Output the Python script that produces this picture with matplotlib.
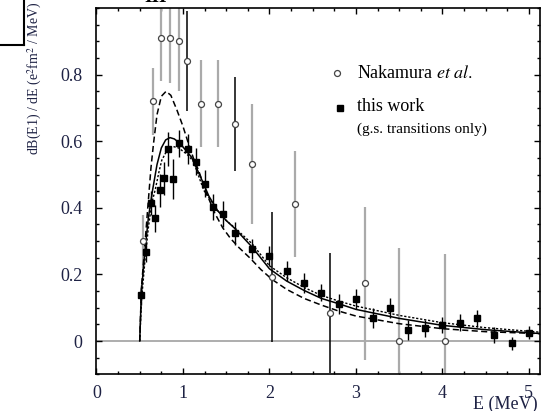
import numpy as np
import matplotlib
matplotlib.use("Agg")
import matplotlib.pyplot as plt
from matplotlib.ticker import MultipleLocator
from matplotlib.lines import Line2D

plt.rcParams['font.family'] = ['Liberation Serif', 'DejaVu Serif']
plt.rcParams['mathtext.fontset'] = 'stix'

# Nakamura et al. (open circles)
nak_x = [0.54, 0.65, 0.75, 0.85, 0.95, 1.05, 1.21, 1.40, 1.60, 1.80, 2.03, 2.30, 2.70, 3.10, 3.50, 4.03]
nak_y = [0.30, 0.72, 0.91, 0.91, 0.90, 0.84, 0.713, 0.713, 0.652, 0.532, 0.193, 0.411, 0.083, 0.173, 0.0, 0.0]
nak_err = [0.08, 0.10, 0.13, 0.135, 0.15, 0.15, 0.13, 0.13, 0.14, 0.18, 0.195, 0.16, 0.18, 0.23, 0.28, 0.26]
nak_dark = [False, False, False, False, False, True, False, False, True, False, True, False, True, False, False, False]

# this work (filled squares)
tw_x = [0.52, 0.57, 0.63, 0.68, 0.73, 0.78, 0.83, 0.88, 0.96, 1.06, 1.15, 1.25, 1.35, 1.46,
        1.60, 1.80, 2.00, 2.20, 2.40, 2.60, 2.80, 3.00, 3.20, 3.40, 3.60, 3.80, 4.00, 4.20,
        4.40, 4.60, 4.80, 5.00]
tw_y = [0.138, 0.268, 0.415, 0.368, 0.453, 0.489, 0.577, 0.487, 0.594, 0.578, 0.539, 0.473, 0.403, 0.381,
        0.323, 0.276, 0.255, 0.210, 0.173, 0.145, 0.111, 0.125, 0.068, 0.098, 0.033, 0.038, 0.048, 0.055,
        0.068, 0.018, -0.007, 0.025]
tw_err = [0.03, 0.03, 0.035, 0.04, 0.05, 0.05, 0.05, 0.06, 0.04, 0.045, 0.04, 0.04, 0.04, 0.04,
          0.035, 0.03, 0.03, 0.03, 0.03, 0.025, 0.03, 0.03, 0.03, 0.03, 0.03, 0.025, 0.025, 0.025,
          0.025, 0.025, 0.02, 0.02]

# theory curves
solid_x = [0.50, 0.52, 0.56, 0.60, 0.65, 0.70, 0.75, 0.80, 0.85, 0.90, 0.95, 1.00, 1.10, 1.20, 1.30,
           1.40, 1.50, 1.60, 1.80, 2.00, 2.20, 2.40, 2.60, 2.80, 3.00, 3.50, 4.00, 4.50, 5.15]
solid_y = [0.0, 0.150, 0.270, 0.370, 0.455, 0.530, 0.580, 0.604, 0.611, 0.607, 0.597, 0.583, 0.552, 0.495, 0.435,
           0.392, 0.362, 0.338, 0.282, 0.217, 0.180, 0.152, 0.128, 0.112, 0.095, 0.068, 0.047, 0.034, 0.022]

dash_x = [0.50, 0.52, 0.56, 0.59, 0.61, 0.63, 0.66, 0.70, 0.75, 0.805, 0.86, 0.93, 1.00, 1.06, 1.12, 1.18,
          1.27, 1.37, 1.46, 1.55, 1.65, 1.78, 1.90, 2.03, 2.20, 2.40, 2.60, 2.80, 3.00, 3.50, 4.00, 4.50, 5.15]
dash_y = [0.0, 0.160, 0.290, 0.390, 0.455, 0.520, 0.594, 0.680, 0.735, 0.750, 0.738, 0.694, 0.645, 0.596, 0.550, 0.513,
          0.445, 0.383, 0.340, 0.308, 0.280, 0.248, 0.215, 0.185, 0.155, 0.128, 0.108, 0.090, 0.075, 0.052, 0.037, 0.028, 0.022]

dot_x = [0.50, 0.52, 0.56, 0.60, 0.64, 0.68, 0.72, 0.755, 0.82, 0.89, 0.95, 1.05, 1.12, 1.24, 1.30,
         1.40, 1.50, 1.60, 1.80, 2.00, 2.20, 2.40, 2.60, 2.80, 3.00, 3.50, 4.00, 4.50, 5.15]
dot_y = [0.0, 0.120, 0.240, 0.340, 0.415, 0.455, 0.505, 0.543, 0.575, 0.584, 0.580, 0.560, 0.540, 0.453, 0.430,
         0.392, 0.362, 0.340, 0.292, 0.226, 0.190, 0.161, 0.137, 0.120, 0.105, 0.077, 0.055, 0.040, 0.026]

fig = plt.figure(figsize=(5.42, 4.11), dpi=100)
ax = fig.add_axes([0.178, 0.0893, 0.8185, 0.891])

ax.axhline(0, color='#a0a0a0', lw=1.2, zorder=1)

ax.plot(solid_x, solid_y, color='k', lw=1.1, zorder=3)
ax.plot(dash_x, dash_y, color='k', lw=1.1, ls=(0, (4, 2.2)), zorder=3)
ax.plot(dot_x, dot_y, color='k', lw=1.0, ls=(0, (1.6, 1.3)), zorder=3)

for x, y, e, dark in zip(nak_x, nak_y, nak_err, nak_dark):
    ax.errorbar(x, y, yerr=e, fmt='none', ecolor='k' if dark else '#aaaaaa',
                elinewidth=1.1 if dark else 1.6, capsize=0, zorder=2)
ax.plot(nak_x, nak_y, 'o', ms=4.3, mfc='white', mec='#444444', mew=0.9, zorder=4)

ax.errorbar(tw_x, tw_y, yerr=tw_err, fmt='s', ms=4.6, color='k', ecolor='k',
            elinewidth=1.0, capsize=0, zorder=5)

ax.set_xlim(0, 5.13)
ax.set_ylim(-0.1, 1.0)
ax.xaxis.set_major_locator(MultipleLocator(1))
ax.xaxis.set_minor_locator(MultipleLocator(0.25))
ax.yaxis.set_major_locator(MultipleLocator(0.2))
ax.yaxis.set_minor_locator(MultipleLocator(0.05))
ax.set_yticks([0, 0.2, 0.4, 0.6, 0.8])
ax.set_yticklabels(['0', '0.2', '0.4', '0.6', '0.8'])
ax.tick_params(which='both', direction='in', top=True, right=True, width=1.0,
               labelsize=13, labelcolor='#1e2244')
ax.tick_params(which='major', length=4.5)
ax.tick_params(which='minor', length=2.5)
ax.tick_params(axis='y', pad=10)
ax.tick_params(axis='x', pad=8)
for s in ax.spines.values():
    s.set_linewidth(1.2)

ax.set_ylabel(r'dB(E1) / dE (e$^2$fm$^2$ / MeV)', fontsize=10, color='#1e2244')
ax.yaxis.set_label_coords(-0.119, 0.807)
fig.text(473 / 542, 1 - 409 / 411, 'E (MeV)', fontsize=13, color='#1e2244',
         ha='left', va='baseline')

# legend
ax.plot([0.542], [0.822], 'o', ms=4.3, mfc='white', mec='#444444', mew=0.9,
        transform=ax.transAxes, clip_on=False)
ax.text(0.587, 0.822, r'Nakamura $\it{et\ al.}$', transform=ax.transAxes,
        fontsize=13, va='center', ha='left')
ax.plot([0.548], [0.728], 's', ms=4.6, color='k', transform=ax.transAxes, clip_on=False)
ax.text(0.587, 0.730, 'this work', transform=ax.transAxes, fontsize=13, va='center', ha='left')
ax.text(0.587, 0.670, '(g.s. transitions only)', transform=ax.transAxes, fontsize=11,
        va='center', ha='left')

# bits cut off at the top edge of the scan
fig.add_artist(Line2D([0, 24 / 542], [1 - 45 / 411, 1 - 45 / 411], color='k', lw=1.5,
                      transform=fig.transFigure))
fig.add_artist(Line2D([24 / 542, 24 / 542], [1 - 45 / 411, 1.0], color='k', lw=1.5,
                      transform=fig.transFigure))
fig.text(156 / 542, 1 - 2 / 411, 'III', fontsize=14, fontweight='bold', ha='center', va='baseline')

fig.savefig('out.png', dpi=100)
